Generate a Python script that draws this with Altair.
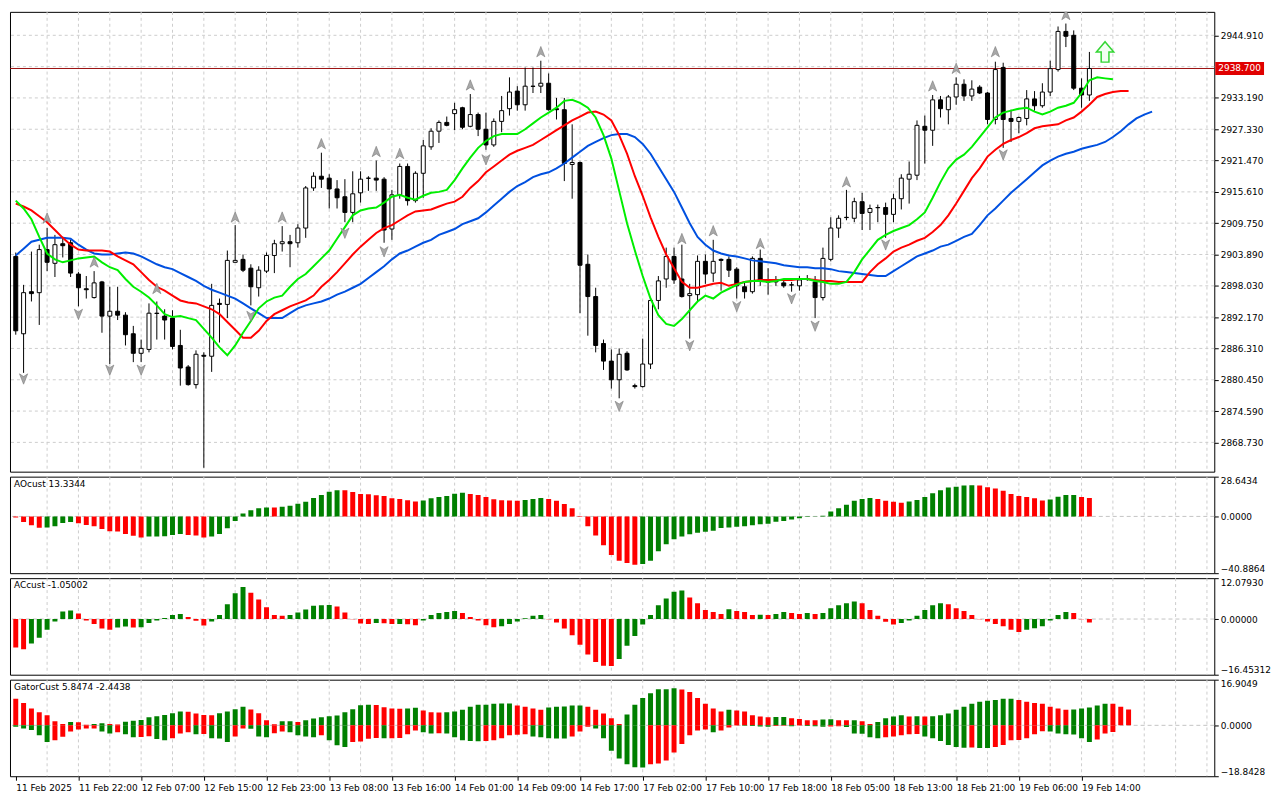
import altair as alt
import pandas as pd

# ---------------- data (XAUUSD H1) ----------------
time_labels = ["11 Feb 2025", "11 Feb 22:00", "12 Feb 07:00", "12 Feb 15:00", "12 Feb 23:00",
               "13 Feb 08:00", "13 Feb 16:00", "14 Feb 01:00", "14 Feb 09:00", "14 Feb 17:00",
               "17 Feb 02:00", "17 Feb 10:00", "17 Feb 18:00", "18 Feb 05:00", "18 Feb 13:00",
               "18 Feb 21:00", "19 Feb 06:00", "19 Feb 14:00"]

price_ticks = [2868.730, 2874.590, 2880.450, 2886.310, 2892.170, 2898.030, 2903.890,
               2909.750, 2915.610, 2921.470, 2927.330, 2933.190, 2944.910]
price_grid_extra = [2939.050]
last_price = 2938.700

bar_open = [
    2903.53, 2889.06, 2896.93, 2896.75, 2904.81, 2902.24, 2905.91, 2906.09, 2900.23, 2897.48,
    2895.83, 2898.76, 2892.36, 2893.27, 2892.54, 2889.06, 2885.40, 2886.13, 2892.91, 2892.36,
    2891.99, 2886.87, 2882.84, 2879.54, 2885.03, 2884.85, 2894.74, 2894.55, 2902.43, 2902.98,
    2901.33, 2897.67, 2900.78, 2903.71, 2905.91, 2906.28, 2906.09, 2908.84, 2916.35, 2918.54,
    2918.18, 2916.16, 2914.70, 2911.77, 2915.43, 2918.18, 2918.18, 2917.99, 2908.66, 2915.06,
    2920.37, 2913.97, 2919.09, 2924.04, 2926.97, 2928.61, 2930.26, 2931.36, 2927.88, 2930.08,
    2927.33, 2924.40, 2928.80, 2931.18, 2934.47, 2931.91, 2935.39, 2935.39, 2935.94, 2931.18,
    2930.99, 2920.74, 2921.11, 2902.06, 2896.02, 2887.23, 2883.94, 2880.45, 2885.40, 2879.35,
    2879.17, 2883.39, 2895.29, 2899.31, 2903.53, 2899.31, 2896.20, 2896.38, 2902.61, 2900.41,
    2902.98, 2902.98, 2901.15, 2897.85, 2896.93, 2903.16, 2898.76, 2898.95, 2898.58, 2898.21,
    2898.03, 2899.31, 2898.76, 2895.83, 2902.98, 2908.84, 2910.85, 2910.67, 2913.78, 2911.77,
    2912.68, 2912.68, 2911.40, 2914.33, 2917.99, 2918.73, 2927.88, 2927.15, 2932.83, 2930.99,
    2933.37, 2935.75, 2933.56, 2935.21, 2934.11, 2929.16, 2938.87, 2929.35, 2928.80, 2929.35,
    2933.01, 2931.73, 2934.29, 2938.50, 2945.64, 2944.91, 2935.02, 2933.74]
bar_high = [
    2904.26, 2898.21, 2904.44, 2905.73, 2908.84, 2907.56, 2907.19, 2906.64, 2900.60, 2899.86,
    2900.78, 2898.95, 2897.85, 2897.85, 2893.09, 2890.53, 2887.97, 2894.74, 2895.10, 2893.64,
    2893.46, 2889.80, 2883.20, 2885.95, 2885.58, 2898.40, 2895.65, 2904.63, 2909.39, 2903.89,
    2902.06, 2901.69, 2904.26, 2906.64, 2909.20, 2907.56, 2909.57, 2916.71, 2919.28, 2922.94,
    2918.91, 2917.81, 2917.99, 2919.46, 2919.46, 2918.54, 2921.47, 2918.36, 2915.98, 2920.92,
    2920.92, 2919.46, 2925.32, 2927.51, 2928.98, 2929.71, 2932.28, 2931.54, 2933.92, 2930.45,
    2930.45, 2929.35, 2933.56, 2937.04, 2935.39, 2938.87, 2938.87, 2940.15, 2937.77, 2933.19,
    2933.19, 2928.25, 2921.29, 2903.89, 2897.67, 2887.97, 2886.13, 2886.32, 2885.77, 2879.72,
    2888.15, 2895.65, 2899.86, 2905.18, 2905.18, 2905.73, 2898.40, 2903.71, 2903.89, 2906.64,
    2903.16, 2903.53, 2901.51, 2898.76, 2903.53, 2904.81, 2901.33, 2899.86, 2899.13, 2898.76,
    2899.86, 2900.05, 2899.86, 2905.18, 2910.85, 2911.22, 2915.98, 2914.51, 2915.43, 2913.23,
    2913.23, 2913.60, 2915.25, 2918.91, 2921.29, 2928.98, 2929.89, 2933.74, 2933.56, 2933.74,
    2937.04, 2936.67, 2936.49, 2935.57, 2934.29, 2939.97, 2939.78, 2930.99, 2929.71, 2934.66,
    2934.47, 2935.94, 2940.15, 2946.56, 2947.11, 2945.83, 2936.85, 2941.80]
bar_low = [
    2888.88, 2881.74, 2895.10, 2890.71, 2900.78, 2899.68, 2903.34, 2899.68, 2894.19, 2895.65,
    2895.65, 2889.25, 2883.39, 2891.63, 2886.87, 2883.75, 2883.75, 2885.58, 2887.97, 2887.97,
    2886.13, 2879.35, 2879.35, 2878.80, 2863.98, 2881.92, 2887.42, 2891.99, 2902.43, 2900.60,
    2894.37, 2896.02, 2900.41, 2900.41, 2904.44, 2901.51, 2905.18, 2907.01, 2915.80, 2916.35,
    2912.50, 2912.50, 2909.94, 2909.94, 2913.60, 2915.80, 2915.80, 2906.09, 2906.64, 2914.33,
    2913.05, 2913.60, 2914.51, 2923.49, 2924.77, 2927.88, 2927.15, 2927.33, 2927.70, 2926.05,
    2923.49, 2924.04, 2926.78, 2929.89, 2930.81, 2930.81, 2934.11, 2934.11, 2930.81, 2929.16,
    2917.63, 2914.33, 2892.91, 2888.70, 2885.58, 2882.29, 2878.80, 2876.98, 2882.11, 2878.80,
    2878.99, 2882.47, 2893.64, 2897.67, 2898.40, 2895.83, 2888.15, 2895.10, 2898.40, 2898.76,
    2897.12, 2899.68, 2895.65, 2895.65, 2896.57, 2898.03, 2896.38, 2898.03, 2897.67, 2896.93,
    2897.12, 2898.95, 2891.99, 2895.29, 2902.61, 2907.01, 2910.30, 2909.94, 2908.47, 2908.47,
    2909.94, 2907.01, 2909.94, 2912.32, 2913.42, 2917.81, 2920.92, 2924.22, 2929.53, 2928.25,
    2931.91, 2932.64, 2932.64, 2933.92, 2928.25, 2928.25, 2923.85, 2924.95, 2926.60, 2928.06,
    2930.81, 2931.36, 2933.56, 2938.13, 2942.71, 2934.66, 2931.36, 2932.64]
bar_close = [
    2889.61, 2896.75, 2896.57, 2904.81, 2902.43, 2905.73, 2905.54, 2900.41, 2897.67, 2897.30,
    2898.58, 2892.36, 2893.27, 2892.54, 2888.88, 2885.40, 2886.32, 2892.91, 2892.85, 2891.63,
    2886.68, 2882.65, 2879.54, 2885.22, 2884.85, 2894.37, 2894.55, 2902.79, 2902.79, 2900.96,
    2897.85, 2900.96, 2903.71, 2905.91, 2906.28, 2905.91, 2908.84, 2916.35, 2918.54, 2917.99,
    2916.16, 2914.51, 2911.77, 2915.25, 2917.99, 2918.15, 2917.81, 2908.47, 2915.06, 2920.37,
    2913.97, 2919.09, 2924.22, 2926.97, 2928.61, 2928.06, 2930.99, 2927.70, 2930.08, 2927.33,
    2924.40, 2928.80, 2930.81, 2934.29, 2931.91, 2935.39, 2935.35, 2935.94, 2930.99, 2930.99,
    2920.92, 2921.11, 2901.88, 2896.02, 2886.87, 2883.94, 2880.45, 2885.22, 2882.29, 2879.17,
    2883.39, 2895.29, 2898.95, 2903.53, 2899.13, 2896.02, 2896.57, 2902.61, 2900.23, 2902.61,
    2902.79, 2900.96, 2898.03, 2896.93, 2903.16, 2898.95, 2898.72, 2898.76, 2898.03, 2898.18,
    2899.13, 2899.28, 2895.83, 2903.16, 2908.84, 2910.67, 2910.80, 2913.78, 2911.58, 2912.50,
    2912.65, 2911.40, 2914.33, 2918.18, 2918.91, 2928.06, 2927.15, 2932.83, 2931.18, 2933.37,
    2935.75, 2933.56, 2934.84, 2934.11, 2929.16, 2938.50, 2929.16, 2928.80, 2929.53, 2933.01,
    2931.73, 2934.29, 2938.68, 2945.64, 2944.73, 2935.02, 2933.74, 2938.70]

# Alligator lines (as drawn, already shifted forward)
jaw = [
    2903.71, 2904.99, 2906.28, 2906.64, 2907.01, 2907.01, 2907.01, 2906.83, 2905.73, 2904.81,
    2904.08, 2903.89, 2903.89, 2904.08, 2904.26, 2904.08, 2903.53, 2902.79, 2902.06, 2901.51,
    2901.15, 2900.41, 2899.68, 2898.95, 2898.03, 2897.30, 2896.75, 2896.20, 2895.65, 2894.74,
    2893.82, 2892.91, 2891.99, 2891.99, 2891.99, 2892.91, 2893.82, 2894.37, 2894.74, 2895.10,
    2895.65, 2896.38, 2896.93, 2897.67, 2898.40, 2899.50, 2900.60, 2901.69, 2902.98, 2904.08,
    2904.63, 2905.36, 2906.09, 2906.64, 2907.56, 2908.11, 2908.66, 2909.57, 2910.12, 2910.67,
    2911.77, 2913.05, 2914.33, 2915.61, 2916.71, 2917.44, 2918.36, 2918.91, 2919.28, 2920.01,
    2920.92, 2922.02, 2923.12, 2924.22, 2924.95, 2925.68, 2926.23, 2926.42, 2926.42, 2925.87,
    2924.59, 2922.75, 2920.37, 2917.99, 2915.61, 2912.68, 2909.75, 2907.19, 2905.73, 2904.63,
    2904.08, 2903.71, 2903.53, 2903.16, 2902.79, 2902.61, 2902.43, 2902.24, 2901.88, 2901.69,
    2901.51, 2901.51, 2901.33, 2901.33, 2901.15, 2900.78, 2900.60, 2900.41, 2900.23, 2900.05,
    2899.86, 2899.86, 2900.78, 2901.69, 2902.61, 2903.53, 2904.08, 2904.63, 2905.36, 2905.73,
    2906.46, 2907.19, 2907.74, 2909.39, 2911.22, 2912.50, 2913.97, 2915.43, 2916.71, 2917.99,
    2919.28, 2920.56, 2921.47, 2922.21, 2922.75, 2923.12, 2923.67, 2924.04, 2924.40, 2924.95,
    2925.87, 2926.97, 2928.25, 2929.35, 2930.08, 2930.63]
teeth = [
    2913.42, 2912.87, 2912.13, 2911.04, 2909.94, 2908.47, 2907.01, 2905.73, 2904.81, 2904.63,
    2904.63, 2904.63, 2904.44, 2903.53, 2902.79, 2902.06, 2900.60, 2899.13, 2897.85, 2897.12,
    2896.20, 2895.29, 2894.92, 2894.74, 2894.19, 2893.64, 2892.73, 2891.26, 2889.80, 2888.33,
    2888.33, 2889.61, 2891.45, 2892.73, 2893.46, 2894.19, 2894.74, 2895.29, 2896.20, 2897.85,
    2899.13, 2900.60, 2902.24, 2903.89, 2905.36, 2906.64, 2907.92, 2908.84, 2909.39, 2910.30,
    2911.22, 2911.95, 2912.13, 2912.32, 2912.87, 2913.42, 2913.78, 2914.70, 2916.35, 2917.63,
    2919.28, 2920.37, 2921.47, 2922.57, 2923.30, 2923.85, 2924.40, 2925.32, 2926.23, 2927.15,
    2928.06, 2928.98, 2929.71, 2930.45, 2930.63, 2930.08, 2928.98, 2926.23, 2922.75, 2918.54,
    2914.88, 2910.85, 2907.19, 2903.89, 2901.33, 2898.76, 2897.67, 2897.67, 2898.03, 2898.40,
    2898.58, 2898.03, 2898.40, 2898.76, 2898.95, 2899.13, 2899.13, 2899.13, 2899.13, 2899.13,
    2899.31, 2899.31, 2899.13, 2898.95, 2898.95, 2898.76, 2898.76, 2898.76, 2898.76, 2900.60,
    2902.06, 2903.16, 2904.44, 2905.18, 2905.73, 2906.46, 2907.01, 2908.11, 2909.39, 2911.22,
    2913.42, 2915.80, 2918.18, 2920.01, 2922.21, 2923.49, 2924.59, 2925.32, 2925.87, 2926.60,
    2927.51, 2927.88, 2928.06, 2928.25, 2928.98, 2929.53, 2930.63, 2931.91, 2933.37, 2933.92,
    2934.29, 2934.47, 2934.47]
lips = [
    2913.97, 2912.50, 2910.49, 2907.19, 2904.08, 2902.98, 2902.43, 2902.79, 2903.16, 2903.34,
    2903.53, 2902.43, 2901.51, 2900.96, 2899.31, 2897.85, 2896.93, 2895.83, 2894.37, 2892.73,
    2892.18, 2892.36, 2891.99, 2891.63, 2889.98, 2888.33, 2886.50, 2885.03, 2886.87, 2889.25,
    2891.45, 2893.82, 2895.10, 2895.83, 2896.20, 2897.85, 2899.31, 2900.23, 2901.69, 2903.16,
    2904.63, 2906.83, 2909.02, 2911.22, 2912.13, 2912.50, 2912.68, 2913.60, 2914.70, 2915.06,
    2914.51, 2914.15, 2914.88, 2915.43, 2915.61, 2915.98, 2917.81, 2920.01, 2922.02, 2923.85,
    2925.14, 2926.05, 2926.42, 2926.42, 2926.42, 2927.33, 2928.43, 2929.53, 2930.45, 2931.36,
    2932.64, 2932.83, 2932.28, 2931.36, 2929.53, 2926.23, 2921.84, 2915.80, 2909.75, 2904.63,
    2899.86, 2895.65, 2892.54, 2890.89, 2890.53, 2891.81, 2893.46, 2895.10, 2896.20, 2895.65,
    2896.75, 2897.48, 2898.21, 2898.76, 2898.95, 2898.95, 2898.76, 2898.95, 2899.31, 2899.31,
    2899.31, 2899.31, 2898.95, 2898.76, 2898.40, 2898.40, 2898.76, 2900.60, 2902.98, 2904.81,
    2906.64, 2907.56, 2908.29, 2908.84, 2909.39, 2910.49, 2911.77, 2914.51, 2917.44, 2920.01,
    2921.66, 2922.57, 2924.04, 2925.87, 2927.70, 2929.53, 2930.45, 2930.81, 2931.18, 2931.36,
    2930.63, 2930.08, 2930.63, 2931.36, 2931.73, 2932.28, 2934.11, 2936.49, 2937.04, 2936.85,
    2936.67]

frac_up_k = [4, 10, 18, 28, 34, 39, 46, 49, 58, 67, 85, 89, 95, 106, 117, 120, 125, 134]
frac_up_p = [2910.67, 2902.43, 2897.48, 2910.85, 2910.85, 2924.59, 2923.12, 2922.75, 2935.57,
             2941.80, 2906.83, 2908.29, 2905.91, 2917.44, 2935.39, 2938.68, 2941.80, 2948.75]
frac_dn_k = [1, 8, 12, 16, 30, 42, 47, 60, 77, 86, 92, 99, 102, 111, 126]
frac_dn_p = [2880.64, 2892.73, 2882.29, 2882.29, 2892.36, 2907.92, 2904.44, 2921.66, 2875.51,
             2886.87, 2894.19, 2895.65, 2890.53, 2905.73, 2922.57]
signal_k = [139]
signal_p = [2941.80]

ao = [
    -0.8, -4.0, -6.3, -8.2, -7.9, -7.0, -4.7, -4.0, -4.9, -6.1,
    -7.0, -9.1, -10.7, -10.8, -12.6, -14.0, -15.2, -14.5, -14.4, -14.3,
    -13.3, -12.6, -13.3, -13.8, -15.2, -14.5, -12.6, -8.6, -3.3, 2.1,
    4.4, 5.8, 6.5, 6.4, 7.0, 7.7, 9.1, 10.5, 13.3, 15.4,
    17.7, 18.9, 18.8, 17.5, 16.1, 16.0, 15.2, 14.7, 13.1, 12.6,
    11.7, 10.7, 11.4, 13.1, 14.0, 14.7, 16.3, 17.0, 16.1, 15.4,
    14.0, 12.4, 11.7, 11.4, 11.3, 11.9, 12.6, 13.3, 12.6, 11.2,
    8.9, 5.8, -0.4, -7.0, -13.8, -20.8, -27.8, -32.0, -33.6, -34.8,
    -34.2, -32.0, -25.0, -20.1, -16.4, -14.5, -12.9, -11.7, -11.0, -10.3,
    -8.4, -8.0, -7.5, -7.0, -6.3, -5.6, -5.2, -3.8, -3.3, -2.3,
    -1.4, -0.5, -0.2, 0.5, 3.5, 5.8, 8.4, 11.2, 12.6, 13.3,
    12.6, 11.2, 10.5, 9.8, 10.7, 11.9, 14.0, 16.6, 18.9, 20.8,
    21.3, 22.2, 22.4, 22.35, 21.0, 20.1, 18.5, 16.1, 14.7, 14.0,
    13.1, 11.4, 12.1, 14.2, 15.4, 15.5, 14.0, 13.3344]
ac = [
    -8.4, -8.9, -7.2, -5.5, -3.2, -0.76, 2.2, 2.5, 1.6, -0.4,
    -1.5, -2.8, -3.2, -2.5, -2.2, -2.5, -2.4, -1.2, -0.4, 0.3,
    1.2, 1.5, 0.6, -0.5, -1.9, -0.7, 1.2, 4.4, 7.6, 9.5,
    7.8, 5.8, 3.5, 1.2, 0.95, 1.2, 1.9, 2.8, 3.9, 4.1,
    4.15, 3.7, 1.9, -0.1, -1.3, -1.5, -1.2, -1.25, -1.5, -1.45,
    -1.55, -1.8, -0.4, 1.2, 1.8, 2.1, 2.4, 1.8, 0.6, -0.4,
    -1.8, -2.4, -2.1, -1.5, -0.7, 0.2, 1.0, 1.2, -0.1, -1.0,
    -2.8, -4.8, -7.6, -10.5, -12.7, -13.8, -13.85, -11.8, -7.9, -5.0,
    -1.6, 1.2, 4.1, 6.1, 8.1, 8.4, 6.4, 4.7, 2.7, 2.1,
    1.5, 2.9, 2.4, 2.1, 1.2, 1.25, 1.2, 1.5, 2.1, 1.8,
    1.5, 1.8, 1.5, 1.8, 3.2, 4.1, 4.7, 5.2, 4.7, 2.7,
    1.0, -0.8, -1.6, -1.2, -0.4, 1.0, 2.7, 4.1, 4.7, 4.4,
    3.2, 2.4, 1.2, -0.1, -0.7, -1.5, -2.1, -3.2, -3.8, -3.2,
    -2.7, -2.1, -0.4, 1.2, 2.1, 1.8, -0.05, -1.05002]
gator_up = [
    9.8, 8.3, 6.2, 4.8, 3.7, 1.5, 0.5, 1.2, 1.1, 0.2,
    0.5, 0.8, 0.5, 0.3, 1.3, 1.7, 2.0, 3.0, 3.4, 3.8,
    4.5, 5.1, 5.0, 4.4, 3.8, 3.75, 4.5, 5.1, 6.0, 6.9,
    5.85, 4.5, 1.9, 0.4, 1.5, 1.55, 1.2, 1.9, 2.5, 3.0,
    3.4, 3.6, 4.8, 6.0, 7.4, 7.6, 7.5, 6.7, 6.2, 6.15,
    6.25, 6.55, 5.5, 4.8, 4.75, 4.8, 5.1, 5.8, 6.9, 7.6,
    7.65, 8.0, 8.05, 8.1, 7.3, 6.9, 6.2, 5.8, 6.6, 6.9,
    6.95, 7.3, 7.35, 6.9, 5.8, 4.4, 2.6, 0.5, 4.05, 7.6,
    10.1, 11.9, 13.35, 13.4, 13.7, 13.3, 12.3, 10.1, 8.0, 6.2,
    5.1, 5.8, 5.5, 5.1, 3.7, 3.3, 3.0, 3.05, 3.1, 2.6,
    2.3, 1.9, 1.85, 2.2, 2.25, 1.9, 1.85, 1.9, 1.5, 0.5,
    1.2, 2.6, 3.3, 3.7, 3.3, 3.35, 3.3, 3.35, 3.7, 4.4,
    5.8, 6.9, 8.0, 8.7, 9.1, 9.4, 9.8, 9.85, 9.4, 8.7,
    8.3, 8.0, 6.9, 6.2, 5.8, 5.85, 6.2, 6.6, 7.3, 8.0,
    7.95, 6.9, 5.8474]
gator_down = [
    -0.5, -1.2, -1.7, -3.7, -6.2, -5.5, -4.2, -2.3, -1.5, -1.2,
    -1.15, -2.3, -3.0, -2.6, -3.3, -4.4, -4.3, -4.0, -5.1, -5.5,
    -4.8, -3.0, -2.6, -3.3, -3.2, -4.8, -4.85, -6.2, -4.1, -1.2,
    -1.3, -4.1, -4.4, -2.9, -2.3, -2.6, -3.7, -4.1, -4.4, -3.7,
    -5.5, -7.4, -8.0, -6.2, -6.0, -5.0, -4.7, -4.8, -4.75, -4.7,
    -3.3, -1.9, -2.6, -3.0, -2.9, -3.0, -4.4, -5.5, -5.8, -5.85,
    -5.8, -5.5, -4.8, -3.7, -3.5, -3.3, -4.1, -4.4, -4.8, -4.85,
    -4.9, -4.1, -2.3, -0.5, -1.2, -4.8, -9.4, -12.3, -14.4, -15.5,
    -15.6, -14.4, -14.1, -13.0, -10.1, -6.9, -3.7, -1.9, -1.5, -2.6,
    -1.9, -0.8, -0.1, -0.15, -0.2, -0.4, -0.5, -0.2, -0.15, -0.3,
    -0.1, -0.2, -0.3, -0.5, -0.4, -0.3, -0.6, -3.0, -3.1, -4.4,
    -4.8, -4.4, -4.1, -3.7, -3.3, -3.25, -4.1, -4.8, -5.8, -7.3,
    -8.0, -8.3, -8.25, -8.35, -8.4, -8.0, -7.3, -5.5, -5.45, -4.8,
    -3.3, -2.2, -2.3, -3.0, -3.3, -3.35, -4.8, -6.2, -5.2, -3.0,
    -2.4438]

ao_range = [-40.8864, 28.6434]
ac_range = [-16.45312, 12.07930]
gator_range = [-18.8428, 16.9049]

# ---------------- layout / style ----------------
W = 1210
H_MAIN = 462
H_IND = 97
FONT = "DejaVu Sans"
GREEN = "#008000"
RED = "#ff0000"
GRID = "#cdcdcd"
XS = alt.Scale(domain=[-0.1, 152.3], nice=False, zero=False)
label_k = [8 * i for i in range(len(time_labels))]
grid_k = list(range(4, 153, 4))

UP_FRACTAL = "M0,-1L0.75,0.9L0,0.4L-0.75,0.9Z"
DN_FRACTAL = "M0,1L0.75,-0.9L0,-0.4L-0.75,-0.9Z"
BIG_ARROW = "M0,-1L0.85,0L0.38,0L0.38,1L-0.38,1L-0.38,0L-0.85,0Z"


def x_enc(field="k", show=False):
    if show:
        expr = "[" + ",".join("'%s'" % t for t in time_labels) + "][round(datum.value/8)]"
        ax = alt.Axis(values=label_k, labelExpr=expr, labelAlign="left", labelPadding=3,
                      tickSize=4, labelFlush=False, labelOverlap=False, title=None,
                      grid=False, domain=False, labelFontSize=9, labelFont=FONT)
    else:
        ax = None
    return alt.X(f"{field}:Q", scale=XS, axis=ax)


def updown(vals, use_abs=False, first="r"):
    out = []
    for i, v in enumerate(vals):
        if i == 0:
            out.append(first)
        else:
            a, b = (abs(v), abs(vals[i - 1])) if use_abs else (v, vals[i - 1])
            out.append("g" if a > b else "r")
    return out


grid_df = pd.DataFrame({"k": grid_k})

# ---------------- main price panel ----------------
YP = alt.Scale(domain=[2863.25, 2949.30], nice=False, zero=False)
yax_main = alt.Axis(values=price_ticks, format=".3f", orient="right", tickSize=4,
                    labelPadding=2, title=None, grid=False, domain=False,
                    labelFontSize=9, labelFont=FONT)


def ym(field):
    return alt.Y(f"{field}:Q", scale=YP, axis=yax_main)


n = len(bar_open)
cdf = pd.DataFrame({"k": list(range(n)), "open": bar_open, "high": bar_high,
                    "low": bar_low, "close": bar_close})
cdf["dir"] = ["up" if c > o else "down" for o, c in zip(bar_open, bar_close)]

main_layers = [
    alt.Chart(grid_df).mark_rule(color=GRID, strokeDash=[3, 3], strokeWidth=1).encode(x=x_enc()),
    alt.Chart(pd.DataFrame({"p": price_ticks + price_grid_extra})).mark_rule(
        color=GRID, strokeDash=[3, 3], strokeWidth=1).encode(y=ym("p")),
    alt.Chart(pd.DataFrame({"p": [last_price]})).mark_rule(color="#9a1010", strokeWidth=1).encode(y=ym("p")),
    alt.Chart(cdf).mark_rule(color="black", strokeWidth=1, clip=True).encode(
        x=x_enc(), y=ym("low"), y2=alt.Y2("high")),
    alt.Chart(cdf).mark_bar(size=4, stroke="black", strokeWidth=1, clip=True).encode(
        x=x_enc(), y=ym("open"), y2=alt.Y2("close"),
        fill=alt.Fill("dir:N", scale=alt.Scale(domain=["up", "down"], range=["white", "black"]),
                      legend=None)),
    alt.Chart(pd.DataFrame({"k": list(range(len(jaw))), "p": jaw})).mark_line(
        color="#0050e0", strokeWidth=2, clip=True).encode(x=x_enc(), y=ym("p")),
    alt.Chart(pd.DataFrame({"k": list(range(len(teeth))), "p": teeth})).mark_line(
        color="#ff0000", strokeWidth=2, clip=True).encode(x=x_enc(), y=ym("p")),
    alt.Chart(pd.DataFrame({"k": list(range(len(lips))), "p": lips})).mark_line(
        color="#00ee00", strokeWidth=2, clip=True).encode(x=x_enc(), y=ym("p")),
    alt.Chart(pd.DataFrame({"k": frac_up_k, "p": frac_up_p})).mark_point(
        shape=UP_FRACTAL, size=120, filled=True, fill="#a8a8a8", stroke="#7a7a7a",
        strokeWidth=0.6, opacity=1, clip=True).encode(x=x_enc(), y=ym("p")),
    alt.Chart(pd.DataFrame({"k": frac_dn_k, "p": frac_dn_p})).mark_point(
        shape=DN_FRACTAL, size=120, filled=True, fill="#a8a8a8", stroke="#7a7a7a",
        strokeWidth=0.6, opacity=1, clip=True).encode(x=x_enc(), y=ym("p")),
    alt.Chart(pd.DataFrame({"k": signal_k, "p": signal_p})).mark_point(
        shape=BIG_ARROW, size=420, filled=True, fill="#f2fff2", stroke="#33d633",
        strokeWidth=1.5, opacity=1).encode(x=x_enc(), y=ym("p")),
    alt.Chart(pd.DataFrame({"p": [last_price]})).mark_rule(color="#e00000", strokeWidth=13).encode(
        x=alt.value(W + 1), x2=alt.value(W + 50), y=ym("p")),
    alt.Chart(pd.DataFrame({"p": [last_price]})).mark_text(
        color="white", align="left", baseline="middle", fontSize=9, font=FONT).encode(
        x=alt.value(W + 4), y=ym("p"), text=alt.Text("p:Q", format=".3f")),
]
main = alt.layer(*main_layers).properties(width=W, height=H_MAIN)


# ---------------- indicator panels ----------------
def indicator(title, dom, fmt, series, show_x=False):
    ys = alt.Scale(domain=dom, nice=False, zero=False)
    yax = alt.Axis(values=[dom[0], 0, dom[1]], format=fmt, orient="right", tickSize=4,
                   labelPadding=2, title=None, grid=False, domain=False, labelFlush=True,
                   labelFontSize=9, labelFont=FONT)

    def yi(field):
        return alt.Y(f"{field}:Q", scale=ys, axis=yax)

    layers = [
        alt.Chart(grid_df).mark_rule(color=GRID, strokeDash=[3, 3], strokeWidth=1).encode(
            x=x_enc(show=show_x)),
        alt.Chart(pd.DataFrame({"v": [0.0]})).mark_rule(
            color="#c4c4c4", strokeDash=[4, 3], strokeWidth=1).encode(yi("v")),
    ]
    for df in series:
        layers.append(
            alt.Chart(df).mark_bar(size=5, clip=True).encode(
                x=x_enc(show=show_x), y=yi("v"), y2=alt.Y2("z"),
                color=alt.Color("c:N", scale=alt.Scale(domain=["g", "r"], range=[GREEN, RED]),
                                legend=None)))
    layers.append(
        alt.Chart(pd.DataFrame({"t": [title]})).mark_text(
            align="left", baseline="top", fontSize=9, font=FONT, color="black").encode(
            x=alt.value(4), y=alt.value(3), text="t:N"))
    return alt.layer(*layers).properties(width=W, height=H_IND)


def series_df(vals, use_abs=False, first="r"):
    return pd.DataFrame({"k": list(range(len(vals))), "v": vals, "z": [0.0] * len(vals),
                         "c": updown(vals, use_abs, first)})


ao_panel = indicator("AOcust %.4f" % ao[-1], ao_range, ".4f", [series_df(ao)])
ac_panel = indicator("ACcust %.5f" % ac[-1], ac_range, ".5f", [series_df(ac)])
gator_panel = indicator("GatorCust %.4f %.4f" % (gator_up[-1], gator_down[-1]), gator_range, ".4f",
                        [series_df(gator_up, True, "r"), series_df(gator_down, True, "g")],
                        show_x=True)

chart = alt.vconcat(main, ao_panel, ac_panel, gator_panel, spacing=3).properties(
    padding={"left": 1, "top": 1, "right": 1, "bottom": 1},
    background="white",
).configure_view(
    stroke="black", strokeWidth=1
).configure_axis(
    labelColor="black", tickColor="black", labelFont=FONT
).configure_text(font=FONT)

chart.save("out.html", embed_options={"renderer": "svg", "actions": False})
